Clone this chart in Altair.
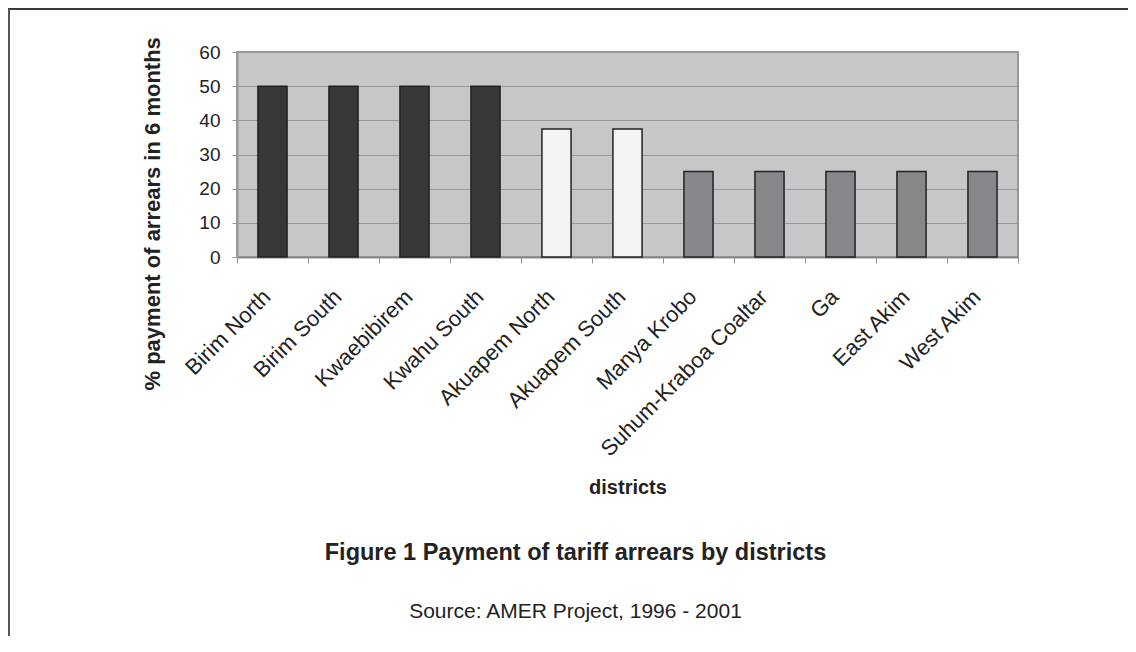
import altair as alt
import pandas as pd

districts = ["Birim North", "Birim South", "Kwaebibirem", "Kwahu South",
             "Akuapem North", "Akuapem South", "Manya Krobo",
             "Suhum-Kraboa Coaltar", "Ga", "East Akim", "West Akim"]
payment = [50, 50, 50, 50, 37.5, 37.5, 25, 25, 25, 25, 25]
groups = ["high", "high", "high", "high", "middle", "middle",
          "low", "low", "low", "low", "low"]
group_order = ["high", "middle", "low"]
group_colors = ["#383838", "#f4f4f4", "#87888b"]
y_ticks = [0, 10, 20, 30, 40, 50, 60]

df = pd.DataFrame({"district": districts, "payment": payment, "group": groups})
one = pd.DataFrame({"k": [0]})

FONT = "Liberation Sans"
W, H = 781, 205
PAD_L, PAD_T = 229, 44
CANVAS_W, CANVAS_H = 1120, 628

bars = alt.Chart(df).mark_bar(
    stroke="#222222", strokeWidth=1.5, width=alt.RelativeBandSize(0.41)
).encode(
    x=alt.X("district:N", sort=districts,
            scale=alt.Scale(paddingInner=0, paddingOuter=0),
            axis=alt.Axis(title="districts", labelAngle=-45, labelAlign="right",
                          labelBaseline="middle", labelPadding=30, labelOffset=-6,
                          labelLimit=500,
                          labelOverlap=False, labelFontSize=22, labelFont=FONT,
                          labelColor="#222222", tickBand="extent", tickSize=6,
                          tickColor="#999999", domainColor="#8a8a8a", domainWidth=2,
                          grid=False, titleFontSize=20, titleFont=FONT,
                          titleFontWeight="bold", titleColor="#222222",
                          titleY=236, titleBaseline="alphabetic")),
    y=alt.Y("payment:Q", scale=alt.Scale(domain=[0, 60], nice=False),
            axis=alt.Axis(values=y_ticks, title="% payment of arrears in 6 months",
                          titleAngle=-90, titleAlign="left", titleBaseline="alphabetic",
                          titleX=-78, titleY=338, titleFontSize=22, titleFont=FONT,
                          titleFontWeight="bold", titleColor="#222222",
                          labelFontSize=19, labelFont=FONT, labelColor="#222222",
                          labelPadding=12, tickSize=5, tickColor="#999999",
                          domainColor="#999999", domainWidth=2,
                          grid=True, gridColor="#999999", gridWidth=1)),
    color=alt.Color("group:N", scale=alt.Scale(domain=group_order, range=group_colors),
                    legend=None),
)

top_rule = alt.Chart(one).mark_rule(color="#3a3a3a", strokeWidth=2).encode(
    x=alt.value(-PAD_L), x2=alt.value(CANVAS_W - PAD_L), y=alt.value(1 - PAD_T))
left_rule = alt.Chart(one).mark_rule(color="#555555", strokeWidth=2).encode(
    x=alt.value(1 - PAD_L), y=alt.value(1 - PAD_T), y2=alt.value(CANVAS_H - PAD_T))

chart = alt.layer(bars, top_rule, left_rule).properties(
    width=W, height=H,
    autosize=alt.AutoSizeParams(type="none"),
    padding={"left": PAD_L, "top": PAD_T, "right": CANVAS_W - PAD_L - W,
             "bottom": CANVAS_H - PAD_T - H},
    background="white",
    title=alt.Title(text="Figure 1 Payment of tariff arrears by districts",
                    subtitle="Source: AMER Project, 1996 - 2001",
                    orient="bottom", anchor="middle", frame="group", dx=-52,
                    offset=-96, fontSize=23.5, fontWeight="bold", font=FONT,
                    color="#222222", subtitleFontSize=21, subtitleFont=FONT,
                    subtitleColor="#222222", subtitleFontWeight="normal",
                    subtitlePadding=36),
).configure_view(
    fill="#c6c7c9", stroke="#999999", strokeWidth=2
)

chart.save("out.html", embed_options={"renderer": "svg", "actions": False})
